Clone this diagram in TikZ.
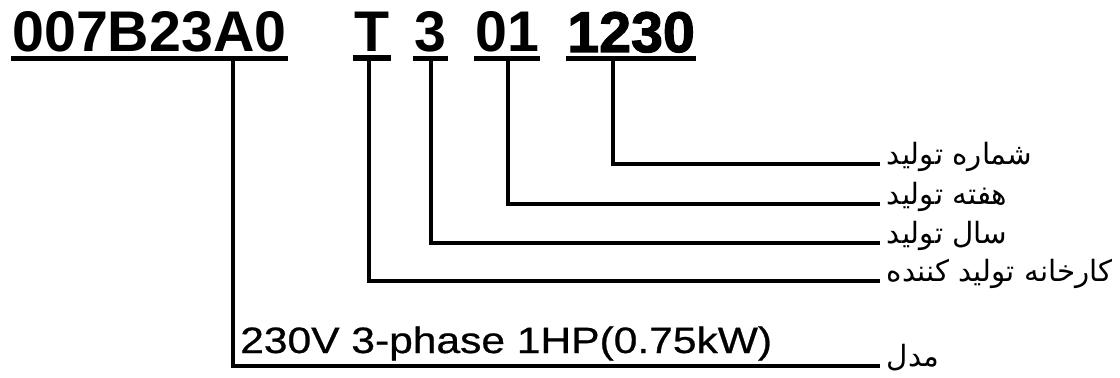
\documentclass[tikz,border=0pt]{standalone}
\usepackage{fontspec}
\setmainfont{Liberation Sans}
\newfontfamily\arabicfont[Script=Arabic]{DejaVu Sans}
\newfontfamily\heavyfont[FakeBold=2]{Liberation Sans Bold}
\newfontfamily\ratingfont[FakeBold=0.6]{Liberation Sans}
\TeXXeTstate=1
\tikzset{
  code/.style={anchor=base west, inner xsep=1pt, inner ysep=4.5pt, outer sep=0pt,
    font=\fontsize{43}{43}\selectfont\bfseries},
  uline/.style={line width=4pt},
  lead/.style={line width=2.7pt},
  tag/.style={anchor=base west, inner xsep=5pt, inner ysep=0pt, outer sep=0pt,
    font=\fontsize{22}{22}\selectfont\arabicfont},
}
\begin{document}
\begin{tikzpicture}[x=0.75pt,y=-0.75pt]
\useasboundingbox (0,0) rectangle (1120,378);

% Codes
\node[code] (model) at (11,52) {007B23A0};
\node[code] (plant) at (353,52) {T};
\node[code] (year) at (413,52) {3};
\node[code] (week) at (474,52) {01};
\node[code,font=\fontsize{43}{43}\selectfont\heavyfont] (serial) at (566,52) {1230};

% Underlines
\foreach \n in {model,plant,year,week,serial} {
    \draw[uline] (\n.south west) -- (\n.south east);
}

% Labels
\node[tag] (lserial) at (880,164) {\beginR شماره تولید\endR};
\node[tag] (lweek) at (880,204) {\beginR هفته تولید\endR};
\node[tag] (lyear) at (880,243) {\beginR سال تولید\endR};
\node[tag] (lplant) at (880,281) {\beginR کارخانه تولید کننده\endR};
\node[tag] (lmodel) at (880,366) {\beginR مدل\endR};

\node[anchor=base west, inner sep=0pt, font=\fontsize{27.5}{27.5}\selectfont\ratingfont] (rating) at (240,353)
  {\scalebox{1.16}[1]{230V 3-phase 1HP(0.75kW)}};

% Drop points
\coordinate (dmodel) at (233,58);
\coordinate (dplant) at (369,58);
\coordinate (dyear) at (431,58);
\coordinate (dweek) at (508,58);
\coordinate (dserial) at (613,58);

% Leads
\draw[lead] (dserial) |- (lserial.base west);
\draw[lead] (dweek) |- (lweek.base west);
\draw[lead] (dyear) |- (lyear.base west);
\draw[lead] (dplant) |- (lplant.base west);
\draw[lead] (dmodel) |- (lmodel.base west);

\end{tikzpicture}
\end{document}
